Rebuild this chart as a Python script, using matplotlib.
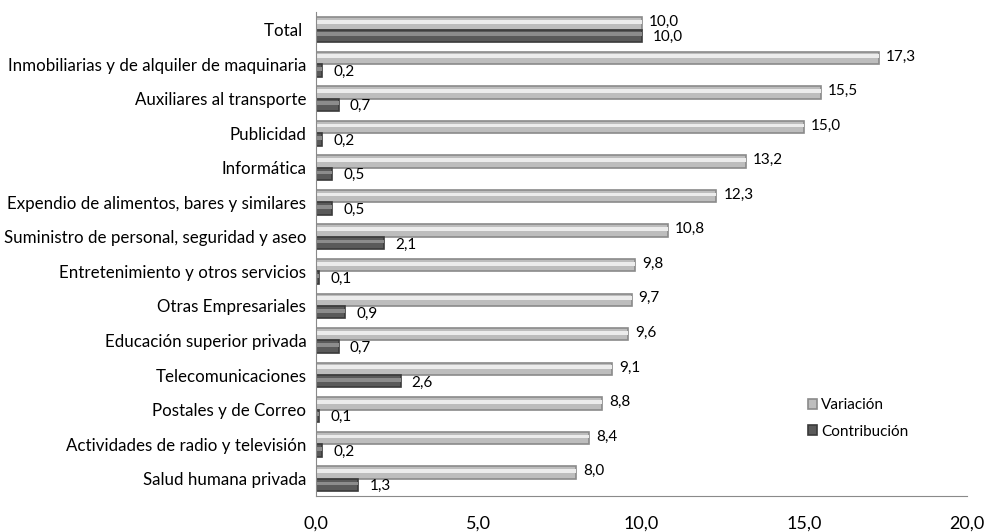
import numpy as np
from matplotlib import pyplot as plt

categorias = ["Total ", "Inmobiliarias y de alquiler de maquinaria", "Auxiliares al transporte",
              "Publicidad", "Informática", "Expendio de alimentos, bares y similares",
              "Suministro de personal, seguridad y aseo", "Entretenimiento y otros servicios",
              "Otras Empresariales", "Educación superior privada", "Telecomunicaciones",
              "Postales y de Correo", "Actividades de radio y televisión", "Salud humana privada"]
variacion = [10.0, 17.3, 15.5, 15.0, 13.2, 12.3, 10.8, 9.8, 9.7, 9.6, 9.1, 8.8, 8.4, 8.0]
contribucion = [10.0, 0.2, 0.7, 0.2, 0.5, 0.5, 2.1, 0.1, 0.9, 0.7, 2.6, 0.1, 0.2, 1.3]
ticks_x = [0, 5, 10, 15, 20]

plt.rcParams['font.family'] = ['Lato', 'DejaVu Sans']

fig = plt.figure(figsize=(9.89, 5.32), dpi=100)
ax = fig.add_axes([0.3195, 0.0677, 0.6583, 0.9093])

y = np.arange(len(categorias))
h = 0.36

#barras con un brillo para simular el degradado
b1 = ax.barh(y - h / 2, variacion, height=h, color='#bdbdbd', edgecolor='#8a8a8a', linewidth=1.2)
ax.barh(y - h / 2 - h * 0.12, variacion, height=h * 0.3, color='#ececec', linewidth=0)
b2 = ax.barh(y + h / 2, contribucion, height=h, color='#5a5a5a', edgecolor='#3a3a3a', linewidth=1.2)
ax.barh(y + h / 2 - h * 0.12, contribucion, height=h * 0.3, color='#8c8c8c', linewidth=0)

for i, v in enumerate(variacion):
    ax.annotate(f"{v:.1f}".replace('.', ','), (v, y[i] - h / 2), xytext=(5, 1),
                textcoords='offset points', va='center', ha='left', fontsize=11)
for i, v in enumerate(contribucion):
    ax.annotate(f"{v:.1f}".replace('.', ','), (v, y[i] + h / 2), xytext=(8, -1),
                textcoords='offset points', va='center', ha='left', fontsize=11)

ax.set_xlim(0, 20)
ax.set_ylim(len(categorias) - 0.5, -0.5)
ax.set_yticks(y)
ax.set_yticklabels(categorias, fontsize=12.2)
ax.set_xticks(ticks_x)
ax.set_xticklabels([f"{t:.1f}".replace('.', ',') for t in ticks_x], fontsize=13)
ax.tick_params(axis='both', length=0)
ax.tick_params(axis='x', pad=14)
ax.tick_params(axis='y', pad=7)

for s in ['top', 'right']:
    ax.spines[s].set_visible(False)
for s in ['left', 'bottom']:
    ax.spines[s].set_color('#8a8a8a')

ax.legend([b1, b2], ["Variación", "Contribución"], loc='lower left', bbox_to_anchor=(0.735, 0.09),
          frameon=False, fontsize=11, handlelength=0.6, handleheight=0.6, handletextpad=0.25,
          labelspacing=0.8)

fig.savefig('out.png', dpi=100)
